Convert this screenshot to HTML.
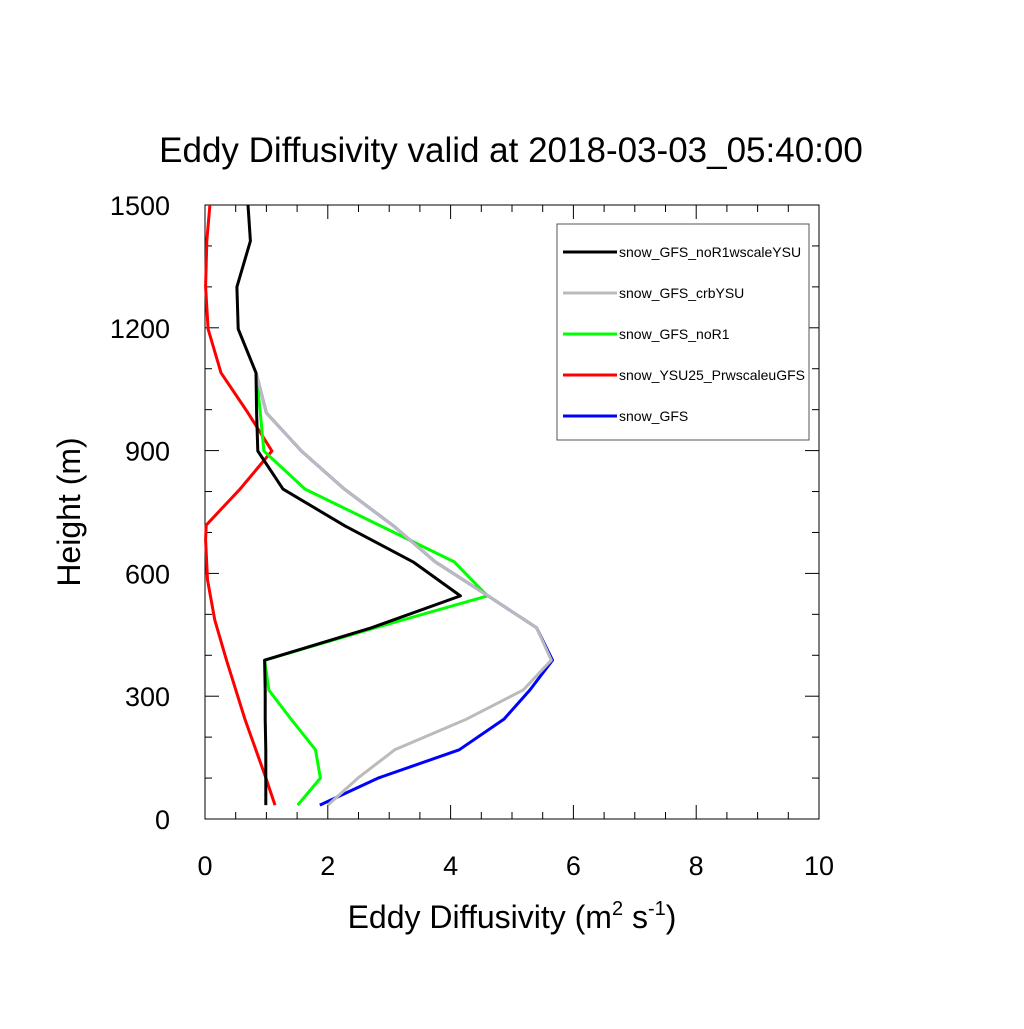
<!DOCTYPE html>
<html><head><meta charset="utf-8"><style>
body{margin:0;background:#fff}
svg text{font-family:"Liberation Sans",sans-serif;fill:#000}
</style></head><body>
<svg id="c" width="1024" height="1024" xmlns="http://www.w3.org/2000/svg">
<rect width="1024" height="1024" fill="#fff"/>
<text x="511" y="162" font-size="35" text-anchor="middle">Eddy Diffusivity valid at 2018-03-03_05:40:00</text>
<g id="axes"></g>
<g id="series"></g>
<g>
<rect x="557" y="224" width="252" height="216" fill="#fff" stroke="#555" stroke-width="1"/>
<g id="legend"></g>
</g>
<text x="512" y="928" font-size="32" text-anchor="middle">Eddy Diffusivity (m<tspan font-size="20" dy="-13">2</tspan><tspan dy="13"> s</tspan><tspan font-size="20" dy="-13">-1</tspan><tspan dy="13">)</tspan></text>
<text transform="translate(80,512) rotate(-90)" font-size="32" text-anchor="middle">Height (m)</text>
</svg>
<script>
const heights=[34,100,169,244,315,388,467,545,628,716,806,899,992,1090,1197,1300,1412,1500];
const blackVals=[0.99,0.99,0.99,0.98,0.98,0.97,2.71,4.16,3.39,2.28,1.27,0.86,0.84,0.83,0.54,0.52,0.74,0.70];
const grayVals=[2.0,2.49,3.09,4.26,5.18,5.64,5.40,4.61,3.75,3.07,2.27,1.57,1.0,0.83,null,null,null,null];
const greenVals=[1.51,1.88,1.80,1.40,1.04,0.97,2.77,4.60,4.06,2.86,1.63,0.96,0.90,0.83,null,null,null,null];
const blueVals=[1.87,2.82,4.14,4.87,5.29,5.66,5.40,4.61,3.75,3.07,2.27,1.57,1.0,0.83,null,null,null,null];
const redHeights=[34,105,244,388,486,584,682,718,806,899,992,1090,1197,1300,1412,1500];
const redVals=[1.14,0.98,0.65,0.35,0.16,0.04,0.01,0.02,0.57,1.09,0.70,0.26,0.05,0.01,0.03,0.08];
const xTicks=[0,2,4,6,8,10];
const yTicks=[0,300,600,900,1200,1500];
const names=["snow_GFS_noR1wscaleYSU","snow_GFS_crbYSU","snow_GFS_noR1","snow_YSU25_PrwscaleuGFS","snow_GFS"];
const colors=["#000","#bbb","#0f0","#f00","#00f"];
const X0=205,X1=819,Y0=819,Y1=205;
const sx=v=>X0+(v/10)*(X1-X0);
const sy=h=>Y0-(h/1500)*(Y0-Y1);
const NS="http://www.w3.org/2000/svg";
function mk(t,a,p){const e=document.createElementNS(NS,t);for(const k in a)e.setAttribute(k,a[k]);p.appendChild(e);return e;}
const ax=document.getElementById('axes');
const frame=mk('rect',{x:X0,y:Y1,width:X1-X0,height:Y0-Y1,fill:'none',stroke:'#000','stroke-width':1},ax);


for(let v=0;v<=10.001;v+=0.5){const x=sx(v);const L=(Math.abs(v-Math.round(v/2)*2)<1e-6)?14:7;
 mk('line',{x1:x,y1:Y0,x2:x,y2:Y0-L,stroke:'#000'},ax);mk('line',{x1:x,y1:Y1,x2:x,y2:Y1+L,stroke:'#000'},ax);}
for(let h=0;h<=1500;h+=100){const y=sy(h);const L=(h%300===0)?14:7;
 mk('line',{x1:X0,y1:y,x2:X0+L,y2:y,stroke:'#000'},ax);mk('line',{x1:X1,y1:y,x2:X1-L,y2:y,stroke:'#000'},ax);}
xTicks.forEach(v=>{const t=mk('text',{x:sx(v),y:875,'font-size':27,'text-anchor':'middle'},ax);t.textContent=v;

});
yTicks.forEach(h=>{const t=mk('text',{x:170,y:sy(h)+10,'font-size':27,'text-anchor':'end'},ax);t.textContent=h;

});
const sg=document.getElementById('series');
function line(hs,vs,color,w,name){const pts=[];vs.forEach((v,i)=>{if(v!==null)pts.push(sx(v).toFixed(1)+','+sy(hs[i]).toFixed(1));});
 const p=mk('polyline',{points:pts.join(' '),fill:'none',stroke:color,'stroke-width':w,'stroke-linejoin':'round'},sg);
 
 }
line(redHeights,redVals,colors[3],3,'series-ysu25-prwscaleugfs');
line(heights,greenVals,colors[2],3,'series-gfs-nor1');
line(heights,blueVals,colors[4],3,'series-gfs');
line(heights,grayVals,colors[1],3,'series-gfs-crbysu');
line(heights,blackVals,colors[0],3,'series-gfs-nor1wscaleysu');
const lg=document.getElementById('legend');
names.forEach((n,i)=>{const y=252+i*41;
 mk('line',{x1:563,y1:y,x2:617,y2:y,stroke:colors[i],'stroke-width':3},lg);
 const t=mk('text',{x:619,y:y+5,'font-size':14},lg);t.textContent=n;
 
 });
</script>
</body></html>
